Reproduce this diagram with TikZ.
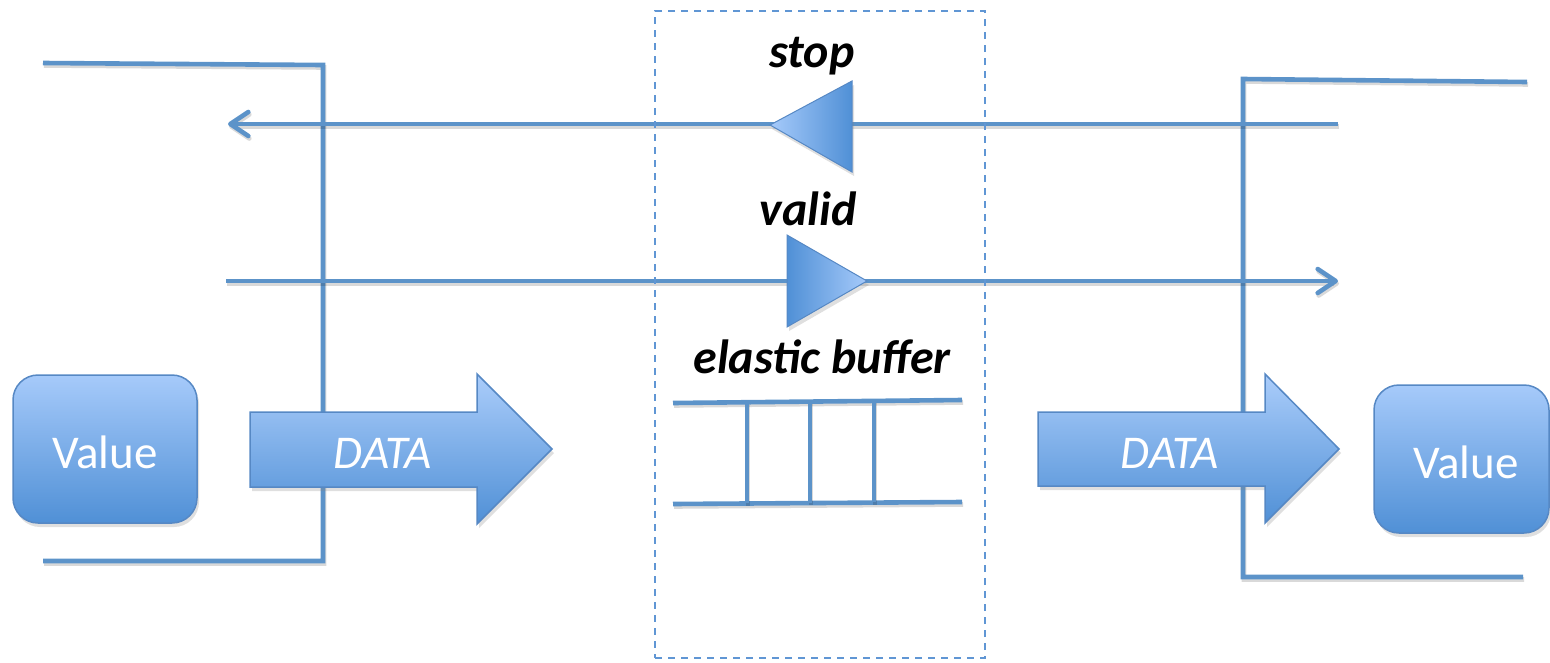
\documentclass[tikz,border=0pt]{standalone}
\usepackage{fontspec}
\setmainfont{Carlito}
\usetikzlibrary{arrows.meta,shadows}

\definecolor{wirecol}{RGB}{92,147,201}
\definecolor{edgecol}{RGB}{86,136,196}
\definecolor{fillhi}{RGB}{166,202,250}
\definecolor{filllo}{RGB}{80,144,214}
\definecolor{framecol}{RGB}{96,150,212}

\tikzset{
  wire/.style={draw=wirecol, line width=4.6pt,
    preaction={draw=black, opacity=0.15, line width=4.6pt,
      transform canvas={xshift=1pt,yshift=-2.5pt}}},
  tip/.style={-{Straight Barb[length=18pt,width=24pt,round]}},
  softshadow/.style={drop shadow={opacity=0.25, shadow xshift=2pt, shadow yshift=-4pt}},
  valuebox/.style={rounded corners=25pt, draw=edgecol, line width=1.5pt,
    top color=fillhi, bottom color=filllo, softshadow, inner sep=0pt},
  dataarrow/.style={draw=edgecol, line width=1.5pt,
    top color=fillhi!95!white, bottom color=filllo, softshadow},
  tri/.style={draw=edgecol, line width=1pt, softshadow},
  boxtext/.style={text=white, font=\fontsize{47}{50}\selectfont, anchor=base, inner sep=0pt},
  datatext/.style={text=white, font=\fontsize{47}{50}\selectfont\itshape, anchor=base, inner sep=0pt},
  sigtext/.style={text=black, font=\fontsize{48}{50}\selectfont\bfseries\itshape, anchor=base, inner sep=0pt},
  stage/.style={draw=framecol, line width=2pt, dash pattern=on 7pt off 6pt, inner sep=0pt}
}

\begin{document}
\begin{tikzpicture}[x=1pt, y=-1pt]
\useasboundingbox (0,0) rectangle (1550,662);

% sender-side register outline
\coordinate (lTopA) at (43,63);
\coordinate (lTopB) at (323,65);
\coordinate (lBotB) at (323,561);
\coordinate (lBotA) at (43,561);
\draw[wire] (lTopA) -- (lTopB) -- (lBotB) -- (lBotA);

% receiver-side register outline
\coordinate (rTopA) at (1527,82);
\coordinate (rTopB) at (1243,79);
\coordinate (rBotB) at (1243,577);
\coordinate (rBotA) at (1523,577);
\draw[wire] (rTopA) -- (rTopB) -- (rBotB) -- (rBotA);

% handshake wires
\coordinate (stopR) at (1338,124);
\coordinate (stopL) at (228,124);
\coordinate (validL) at (226,281);
\coordinate (validR) at (1338,281);
\draw[wire, tip] (stopR) -- (stopL);
\draw[wire, tip] (validL) -- (validR);

% buffer symbols on the wires
\path[tri, left color=fillhi, right color=filllo]
  (770,125) -- (852,81) -- (852,172) -- cycle;
\path[tri, left color=filllo, right color=fillhi]
  (787,235) -- (867,281) -- (787,327) -- cycle;

% elastic buffer ladder
\coordinate (ebTL) at (673,403);
\coordinate (ebTR) at (962,400);
\coordinate (ebBL) at (673,504);
\coordinate (ebBR) at (962,502);
\draw[wire] (ebTL) -- (ebTR);
\draw[wire] (ebBL) -- (ebBR);
\foreach \x/\t/\b in {747/402.2/503.3, 810/401.5/502.8, 874/400.8/502.4}
  \draw[wire] (\x,\t) -- (\x,\b);

% data arrows
\path[dataarrow] (250,412) -- (477,412) -- (477,374) -- (552,449)
  -- (477,524) -- (477,487) -- (250,487) -- cycle;
\path[dataarrow] (1038,412) -- (1265,412) -- (1265,374) -- (1339,449)
  -- (1265,523) -- (1265,486) -- (1038,486) -- cycle;
\node[datatext] (dataL) at (383,468) {DATA};
\node[datatext] (dataR) at (1170,468) {DATA};

% value boxes
\node[valuebox, minimum width=184pt, minimum height=148pt] (valL) at (105,449) {};
\node[valuebox, minimum width=175pt, minimum height=148pt] (valR) at (1461.5,459) {};
\node[boxtext] (valLtxt) at (105,468) {Value};
\node[boxtext] (valRtxt) at (1466,478) {Value};

% signal labels
\node[sigtext] (stopLbl) at (812,67) {stop};
\node[sigtext] (validLbl) at (808,225) {valid};
\node[sigtext] (ebLbl) at (822,373) {elastic buffer};

% pipeline stage frame
\node[stage, minimum width=330pt, minimum height=647pt] (stg) at (820,334.5) {};
\end{tikzpicture}
\end{document}
